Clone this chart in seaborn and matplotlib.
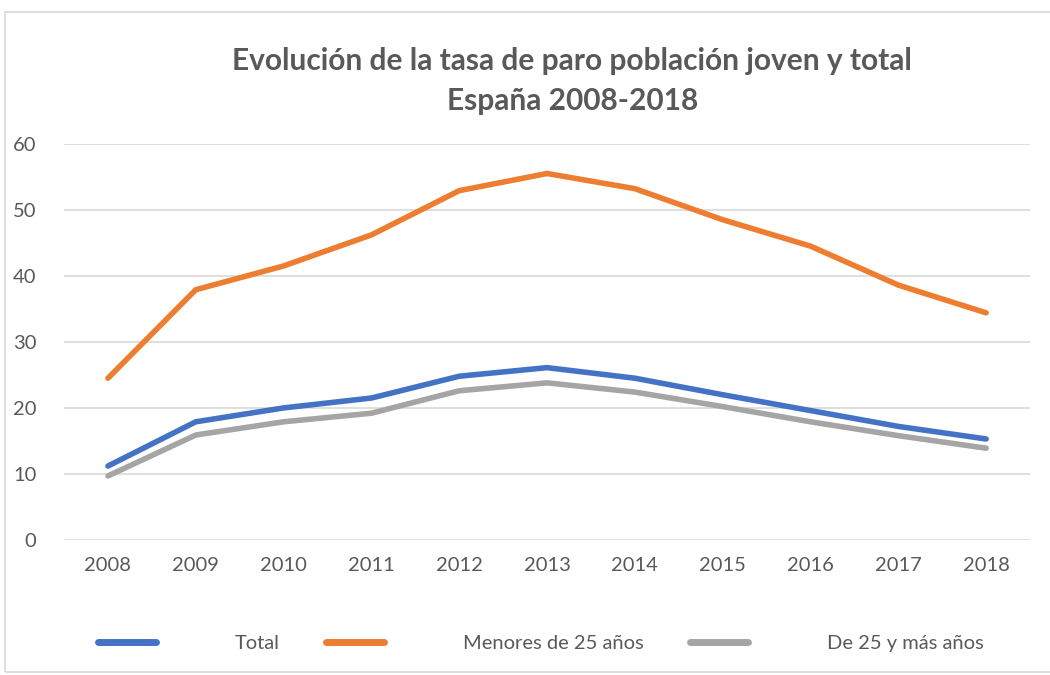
import matplotlib.pyplot as plt
import matplotlib.patches as patches
import pandas as pd
import seaborn as sns

# data
years = [2008, 2009, 2010, 2011, 2012, 2013, 2014, 2015, 2016, 2017, 2018]
total = [11.2, 17.9, 20.0, 21.5, 24.8, 26.1, 24.5, 22.0, 19.6, 17.2, 15.3]
menores_25 = [24.5, 37.9, 41.5, 46.2, 52.9, 55.5, 53.2, 48.5, 44.5, 38.6, 34.4]
mayores_25 = [9.7, 15.9, 17.9, 19.2, 22.6, 23.8, 22.4, 20.2, 17.9, 15.8, 13.9]
series_names = ["Total", "Menores de 25 años", "De 25 y más años"]
colors = ["#4472C4", "#ED7D31", "#A5A5A5"]

df = pd.DataFrame({"Año": years, series_names[0]: total,
                   series_names[1]: menores_25, series_names[2]: mayores_25})
long_df = df.melt(id_vars="Año", var_name="Serie", value_name="Tasa")

sns.set_style("white")
plt.rcParams["font.family"] = ["Lato", "DejaVu Sans"]
text_color = "#595959"

fig = plt.figure(figsize=(10.5, 6.75), dpi=100)
ax = fig.add_axes([0.061, 0.2, 0.92, 0.587])

sns.lineplot(data=long_df, x="Año", y="Tasa", hue="Serie",
             hue_order=series_names, palette=colors, linewidth=4,
             solid_capstyle="round", ax=ax, legend=False)

ax.set_xlim(2007.5, 2018.5)
ax.set_ylim(0, 60)
ax.set_yticks(range(0, 61, 10))
ax.set_xticks(years)
ax.yaxis.grid(True, color="#D9D9D9", linewidth=1.2)
ax.set_axisbelow(True)
for s in ax.spines.values():
    s.set_visible(False)
ax.set_xlabel("")
ax.set_ylabel("")
ax.tick_params(axis="both", length=0, labelsize=14.5, colors=text_color, pad=12)
ax.tick_params(axis="y", pad=20)

fig.text(0.545, 0.91, "Evolución de la tasa de paro población joven y total",
         ha="center", va="center", fontsize=21.5, fontweight="bold", color=text_color)
fig.text(0.545, 0.851, "España 2008-2018",
         ha="center", va="center", fontsize=21.5, fontweight="bold", color=text_color)

handles = [plt.Line2D([], [], color=c, linewidth=5, solid_capstyle="round") for c in colors]
fig.legend(handles, series_names, loc="center", bbox_to_anchor=(0.515, 0.047),
           ncol=3, frameon=False, fontsize=14.5, labelcolor=text_color,
           handlelength=2.9, handletextpad=3.9, columnspacing=2.3)

# outer chart border
fig.patches.append(patches.Rectangle((0.005, 0.004), 1.2, 0.978, transform=fig.transFigure,
                                     fill=False, edgecolor="#D9D9D9", linewidth=1.2))

fig.savefig("out.png", dpi=100)
